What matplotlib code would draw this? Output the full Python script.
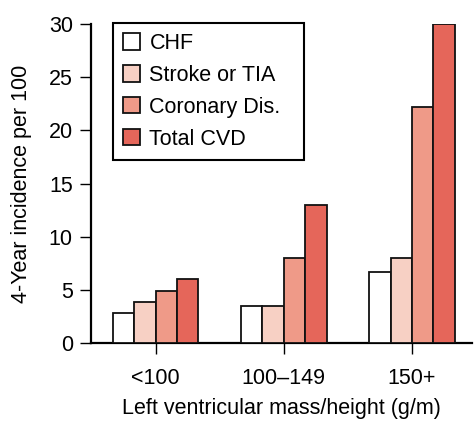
import numpy as np
import matplotlib
matplotlib.use('Agg')
import matplotlib.pyplot as plt

plt.rcParams['font.family'] = ['Liberation Sans', 'DejaVu Sans']

groups = ['<100', '100\u2013149', '150+']
series = ['CHF', 'Stroke or TIA', 'Coronary Dis.', 'Total CVD']
chf = [2.85, 3.5, 6.7]
stroke = [3.9, 3.5, 8.0]
coronary = [4.9, 8.0, 22.2]
total_cvd = [6.0, 13.0, 30.0]
colors = ['#ffffff', '#f7d0c4', '#ef9a88', '#e5665a']

fs = 15.5

fig = plt.figure(figsize=(4.76, 4.22), dpi=100)
ax = fig.add_axes([0.191, 0.187, 0.801, 0.756])

x = np.arange(len(groups))
w = 0.167
values = [chf, stroke, coronary, total_cvd]
for i, (name, vals, c) in enumerate(zip(series, values, colors)):
    ax.bar(x + (i - 1.5) * w, vals, w, color=c, edgecolor='#111111',
           linewidth=1.3, label=name, zorder=3)

ax.set_xlim(-0.505, 2.47)
ax.set_ylim(0, 30)
ax.set_yticks([0, 5, 10, 15, 20, 25, 30])
ax.set_xticks(x)
ax.set_xticklabels(groups)

for s in ['top', 'right']:
    ax.spines[s].set_visible(False)
for s in ['left', 'bottom']:
    ax.spines[s].set_linewidth(1.6)

ax.tick_params(axis='y', length=8, width=1, labelsize=fs, pad=5)
ax.tick_params(axis='x', length=8, width=1, labelsize=fs, pad=10)

ax.set_ylabel('4-Year incidence per 100', fontsize=fs)
ax.set_xlabel('Left ventricular mass/height (g/m)', fontsize=fs)
ax.yaxis.set_label_coords(-0.155, 0.5)
ax.xaxis.set_label_coords(0.5, -0.172)

# legend box stretched to the reference width
leg = ax.legend(loc='upper left', bbox_to_anchor=(0.058, 0.5, 0.501, 0.503),
                mode='expand', fontsize=fs,
                fancybox=False, edgecolor='black', framealpha=1,
                handlelength=0.8, handleheight=0.8, labelspacing=0.5,
                borderpad=0.47, handletextpad=0.42, borderaxespad=0)
leg.get_frame().set_linewidth(1.5)

fig.savefig('out.png', dpi=100)
